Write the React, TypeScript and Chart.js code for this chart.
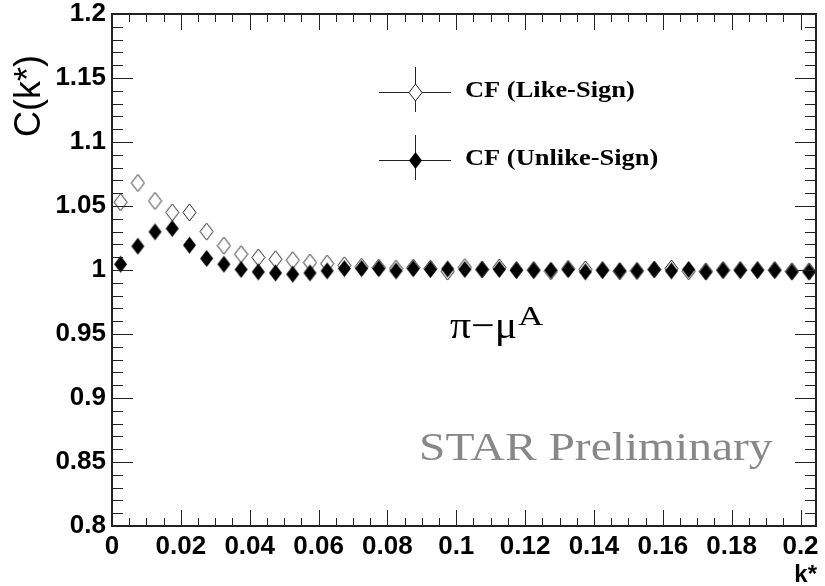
import React, { useEffect, useRef } from "react";
import { Chart, registerables } from "chart.js";

Chart.register(...registerables);

// bin centres of k* (GeV/c)
const kStar = [
  0.0025, 0.0075, 0.0125, 0.0175, 0.0225, 0.0275, 0.0325, 0.0375, 0.0425, 0.0475,
  0.0525, 0.0575, 0.0625, 0.0675, 0.0725, 0.0775, 0.0825, 0.0875, 0.0925, 0.0975,
  0.1025, 0.1075, 0.1125, 0.1175, 0.1225, 0.1275, 0.1325, 0.1375, 0.1425, 0.1475,
  0.1525, 0.1575, 0.1625, 0.1675, 0.1725, 0.1775, 0.1825, 0.1875, 0.1925, 0.1975,
  0.2025,
];

const cfLikeSign = [
  1.053, 1.068, 1.054, 1.045, 1.045, 1.030, 1.019, 1.0124, 1.0098, 1.0084,
  1.0077, 1.0058, 1.005, 1.0037, 1.0025, 1.0019, 1.0011, 1.0019, 1.0011, 0.9988,
  1.0022, 1.0004, 1.002, 1.0, 1.0, 0.999, 1.001, 1.0005, 1.0, 0.999,
  0.9993, 1.0004, 1.0012, 0.999, 0.999, 1.0, 1.0, 1.0, 1.0, 0.999,
  0.999,
];

const cfUnlikeSign = [
  1.0045, 1.0186, 1.0298, 1.0324, 1.0194, 1.009, 1.0045, 1.0004, 0.9985, 0.9977,
  0.9967, 0.9977, 0.9993, 1.0011, 1.0011, 1.0011, 0.9993, 1.0011, 1.0004, 1.0008,
  1.0004, 1.0004, 1.0004, 0.9998, 0.9998, 0.9998, 1.0004, 0.9985, 0.9998, 0.9993,
  0.9993, 1.0004, 0.9993, 1.0004, 0.9985, 0.9998, 0.9998, 0.9998, 0.9998, 0.9985,
  0.9985,
];

const xTicks = [0, 0.02, 0.04, 0.06, 0.08, 0.1, 0.12, 0.14, 0.16, 0.18, 0.2];
const xTickLabels = ["0", "0.02", "0.04", "0.06", "0.08", "0.1", "0.12", "0.14", "0.16", "0.18", "0.2"];
const yTicks = [0.8, 0.85, 0.9, 0.95, 1.0, 1.05, 1.1, 1.15, 1.2];
const yTickLabels = ["0.8", "0.85", "0.9", "0.95", "1", "1.05", "1.1", "1.15", "1.2"];

const seriesNames = ["CF (Like-Sign)", "CF (Unlike-Sign)"];
const X_MIN = 0;
const X_MAX = 0.2045;
const Y_MIN = 0.8;
const Y_MAX = 1.2;

function makeDiamond(filled: boolean): HTMLCanvasElement {
  const w = 15;
  const h = 19;
  const c = document.createElement("canvas");
  c.width = w;
  c.height = h;
  const ctx = c.getContext("2d")!;
  ctx.beginPath();
  ctx.moveTo(w / 2, 1);
  ctx.lineTo(w - 1, h / 2);
  ctx.lineTo(w / 2, h - 1);
  ctx.lineTo(1, h / 2);
  ctx.closePath();
  if (filled) {
    ctx.fillStyle = "#000";
    ctx.fill();
  } else {
    ctx.fillStyle = "#fff";
    ctx.fill();
    ctx.strokeStyle = "#222";
    ctx.lineWidth = 1;
    ctx.stroke();
  }
  return c;
}

function wideText(ctx: CanvasRenderingContext2D, text: string, x: number, y: number, sx: number) {
  ctx.save();
  ctx.translate(x, y);
  ctx.scale(sx, 1);
  ctx.fillText(text, 0, 0);
  ctx.restore();
  return ctx.measureText(text).width * sx;
}

export default function App() {
  const ref = useRef<HTMLCanvasElement | null>(null);

  useEffect(() => {
    if (!ref.current) return;
    const openD = makeDiamond(false);
    const fullD = makeDiamond(true);

    const rootDecor = {
      id: "rootDecor",
      afterDatasetsDraw(chart: any) {
        const { ctx, chartArea: a, scales } = chart;
        const xs = scales.x;
        const ys = scales.y;
        ctx.save();
        ctx.strokeStyle = "#222";
        ctx.lineWidth = 1;
        // x ticks (bottom and top)
        for (let i = 0; i <= 41; i++) {
          const v = i * 0.005;
          if (v > X_MAX) break;
          const px = Math.round(xs.getPixelForValue(v)) + 0.5;
          const major = i % 4 === 0;
          const len = major ? 16 : 8;
          ctx.beginPath();
          ctx.moveTo(px, a.bottom);
          ctx.lineTo(px, a.bottom - len);
          ctx.moveTo(px, a.top);
          ctx.lineTo(px, a.top + len);
          ctx.stroke();
        }
        // y ticks (left and right)
        for (let i = 0; i <= 40; i++) {
          const v = Y_MIN + i * 0.01;
          const py = Math.round(ys.getPixelForValue(v)) + 0.5;
          const major = i % 5 === 0;
          const len = major ? 21 : 11;
          ctx.beginPath();
          ctx.moveTo(a.left, py);
          ctx.lineTo(a.left + len, py);
          ctx.moveTo(a.right, py);
          ctx.lineTo(a.right - len, py);
          ctx.stroke();
        }
        // frame
        ctx.lineWidth = 2;
        ctx.strokeStyle = "#222";
        ctx.strokeRect(a.left, a.top, a.right - a.left, a.bottom - a.top);

        // legend
        ctx.lineWidth = 1;
        ctx.strokeStyle = "#222";
        const legendRows = [
          { y: 92, img: openD },
          { y: 160, img: fullD },
        ];
        legendRows.forEach((r, i) => {
          ctx.beginPath();
          ctx.moveTo(379, r.y + 0.5);
          ctx.lineTo(451, r.y + 0.5);
          ctx.moveTo(415.5, r.y - 25);
          ctx.lineTo(415.5, r.y + 20);
          ctx.stroke();
          ctx.drawImage(r.img, 415.5 - r.img.width / 2, r.y - r.img.height / 2 + 0.5);
          ctx.fillStyle = "#000";
          ctx.font = "bold 23px 'Liberation Serif'";
          ctx.textAlign = "left";
          ctx.textBaseline = "alphabetic";
          wideText(ctx, seriesNames[i], 465, r.y + 5, 1.15);
        });

        // annotation pi-mu^A
        ctx.fillStyle = "#000";
        ctx.font = "38px 'Liberation Serif'";
        ctx.textAlign = "left";
        ctx.textBaseline = "alphabetic";
        wideText(ctx, "\u03C0\u2212\u03BC", 450, 338, 1.1);
        ctx.font = "27px 'Liberation Serif'";
        wideText(ctx, "A", 518, 325, 1.3);

        // STAR Preliminary
        ctx.fillStyle = "#888";
        ctx.font = "41px 'Liberation Serif'";
        wideText(ctx, "STAR Preliminary", 419, 460, 1.158);

        // axis titles
        ctx.fillStyle = "#000";
        ctx.font = "bold 24px 'Liberation Sans'";
        ctx.textAlign = "right";
        ctx.fillText("k*", 817, 582);

        ctx.save();
        ctx.translate(48, 55);
        ctx.rotate(-Math.PI / 2);
        ctx.font = "36px 'Liberation Sans'";
        ctx.textAlign = "right";
        ctx.textBaseline = "alphabetic";
        ctx.fillText("C(k*)", 0, -8);
        ctx.restore();

        ctx.restore();
      },
    };

    const chart = new Chart(ref.current, {
      type: "scatter",
      data: {
        datasets: [
          {
            label: seriesNames[1],
            data: kStar.map((x, i) => ({ x, y: cfUnlikeSign[i] })),
            pointStyle: fullD as any,
            pointRadius: 8,
            order: 0,
          },
          {
            label: seriesNames[0],
            data: kStar.map((x, i) => ({ x, y: cfLikeSign[i] })),
            pointStyle: openD as any,
            pointRadius: 8,
            order: 1,
          },
        ],
      },
      options: {
        animation: false,
        responsive: false,
        devicePixelRatio: 1,
        layout: { padding: { top: 14, right: 8, left: 0, bottom: 0 } },
        plugins: {
          legend: { display: false },
          tooltip: { enabled: false },
        },
        scales: {
          x: {
            type: "linear",
            min: X_MIN,
            max: X_MAX,
            grid: { display: false, drawTicks: false },
            border: { display: false },
            afterBuildTicks: (s: any) => {
              s.ticks = xTicks.map((v) => ({ value: v }));
            },
            afterFit: (s: any) => {
              s.height = 60;
              s.paddingLeft = 0;
              s.paddingRight = 0;
            },
            ticks: {
              autoSkip: false,
              maxRotation: 0,
              padding: 5,
              color: "#000",
              font: { family: "'Liberation Sans'", size: 26, weight: "bold" },
              callback: (_v: any, i: number) => xTickLabels[i],
            },
          },
          y: {
            type: "linear",
            min: Y_MIN,
            max: Y_MAX,
            grid: { display: false, drawTicks: false },
            border: { display: false },
            afterBuildTicks: (s: any) => {
              s.ticks = yTicks.map((v) => ({ value: v }));
            },
            afterFit: (s: any) => {
              s.width = 112;
              s.paddingTop = 0;
              s.paddingBottom = 0;
            },
            ticks: {
              autoSkip: false,
              padding: 6,
              color: "#000",
              font: { family: "'Liberation Sans'", size: 26, weight: "bold" },
              callback: (_v: any, i: number) => yTickLabels[i],
            },
          },
        },
      },
      plugins: [rootDecor],
    });
    return () => chart.destroy();
  }, []);

  return (
    <div style={{ position: "absolute", left: 0, top: 0, width: 825, height: 586, background: "#fff" }}>
      <canvas ref={ref} width={825} height={586} />
    </div>
  );
}
